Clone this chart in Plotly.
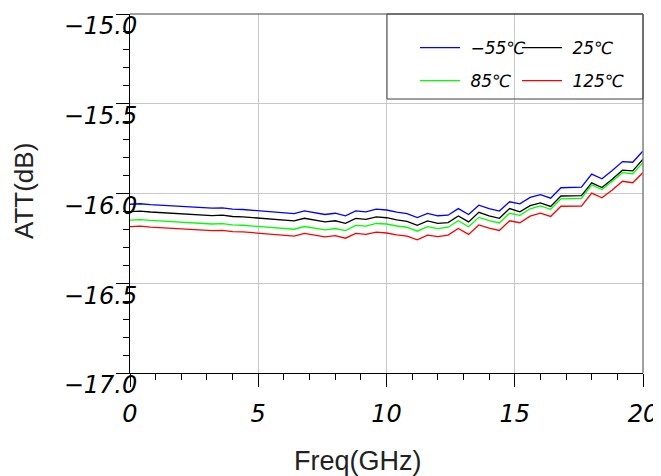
import plotly.graph_objects as go

freq = [round(i * 0.4, 1) for i in range(51)]

att_m55 = [-16.060, -16.057, -16.062, -16.065, -16.069, -16.071, -16.073, -16.078, -16.082, -16.080,
           -16.087, -16.089, -16.093, -16.098, -16.104, -16.106, -16.112, -16.097, -16.106, -16.117,
           -16.110, -16.124, -16.097, -16.102, -16.087, -16.092, -16.104, -16.112, -16.134, -16.111,
           -16.124, -16.121, -16.084, -16.117, -16.065, -16.084, -16.098, -16.046, -16.058, -16.022,
           -16.006, -16.026, -15.968, -15.968, -15.965, -15.892, -15.918, -15.872, -15.822, -15.826,
           -15.763]
att_25 = [-16.101, -16.098, -16.103, -16.106, -16.110, -16.112, -16.114, -16.119, -16.123, -16.121,
          -16.128, -16.130, -16.134, -16.139, -16.145, -16.147, -16.153, -16.138, -16.147, -16.158,
          -16.152, -16.166, -16.139, -16.144, -16.130, -16.135, -16.147, -16.155, -16.177, -16.153,
          -16.166, -16.162, -16.125, -16.158, -16.105, -16.124, -16.138, -16.084, -16.102, -16.068,
          -16.052, -16.072, -16.014, -16.015, -16.012, -15.941, -15.967, -15.920, -15.870, -15.874,
          -15.809]
att_85 = [-16.148, -16.145, -16.150, -16.153, -16.157, -16.159, -16.161, -16.166, -16.170, -16.168,
          -16.175, -16.177, -16.181, -16.186, -16.192, -16.193, -16.199, -16.184, -16.193, -16.203,
          -16.195, -16.207, -16.178, -16.182, -16.167, -16.170, -16.181, -16.188, -16.210, -16.185,
          -16.196, -16.188, -16.152, -16.185, -16.133, -16.151, -16.164, -16.110, -16.122, -16.085,
          -16.069, -16.088, -16.030, -16.030, -16.027, -15.952, -15.978, -15.932, -15.884, -15.890,
          -15.828]
att_125 = [-16.185, -16.182, -16.187, -16.190, -16.194, -16.196, -16.198, -16.203, -16.207, -16.205,
           -16.212, -16.214, -16.218, -16.223, -16.229, -16.231, -16.237, -16.222, -16.231, -16.242,
           -16.235, -16.249, -16.222, -16.228, -16.215, -16.220, -16.230, -16.237, -16.258, -16.232,
           -16.240, -16.232, -16.195, -16.228, -16.175, -16.193, -16.206, -16.152, -16.163, -16.126,
           -16.110, -16.128, -16.071, -16.072, -16.070, -15.998, -16.024, -15.980, -15.932, -15.940,
           -15.883]

x_ticks = [0, 5, 10, 15, 20]
x_tick_labels = ["0", "5", "10", "15", "20"]
y_ticks = [-17.0, -16.5, -16.0, -15.5, -15.0]
y_tick_labels = ["−17.0", "−16.5", "−16.0", "−15.5", "−15.0"]

series = [
    ("\u00a0−55℃", att_m55, "#0000ff", "legend"),
    ("\u00a025℃", att_25, "#000000", "legend2"),
    ("\u00a085℃", att_85, "#00ff00", "legend"),
    ("\u00a0125℃", att_125, "#ff0000", "legend2"),
]

hand = dict(family="DejaVu Sans", size=24, color="#000000", style="italic")

fig = go.Figure()
for name, vals, color, leg in series:
    fig.add_trace(go.Scatter(x=freq, y=vals, mode="lines", name=name,
                             line=dict(color=color, width=1.3), legend=leg,
                             legendgroup=name))

# page body has an 8px margin; figure is 8px smaller so the screen matches 661x476
W, H = 653, 468
L, R, T, B = 122, 18, 6, 103
pw, ph = W - L - R, H - T - B
OFF = 8

def px2x(px):
    return (px - OFF - L) / pw

def py2y(py):
    return 1 - (py - OFF - T) / ph

leg_common = dict(bgcolor="rgba(0,0,0,0)", borderwidth=0, orientation="v",
                  font=dict(family="DejaVu Sans", size=17, color="#000000", style="italic"),
                  xanchor="left", yanchor="top", tracegroupgap=8, itemwidth=40)

fig.update_layout(
    width=W, height=H,
    margin=dict(l=L, r=R, t=T, b=B, autoexpand=False),
    paper_bgcolor="white", plot_bgcolor="white",
    showlegend=True,
    legend=dict(x=px2x(415), y=py2y(30), **leg_common),
    legend2=dict(x=px2x(517), y=py2y(30), **leg_common),
    xaxis=dict(range=[0, 20], tickvals=x_ticks, ticktext=x_tick_labels, automargin=False,
               showline=True, linecolor="#000000", linewidth=1,
               ticks="outside", ticklen=13, tickcolor="#000000", tickwidth=1,
               showgrid=True, gridcolor="#c8c8c8", gridwidth=1,
               zeroline=False, tickfont=hand, ticklabelstandoff=6,
               minor=dict(dtick=1, ticks="outside", ticklen=6, tickcolor="#000000", showgrid=False)),
    yaxis=dict(range=[-17, -15], tickvals=y_ticks, ticktext=y_tick_labels, automargin=False,
               showline=True, linecolor="#000000", linewidth=1,
               ticks="outside", ticklen=13, tickcolor="#000000", tickwidth=1,
               showgrid=True, gridcolor="#c8c8c8", gridwidth=1,
               zeroline=False, tickfont=hand, ticklabelstandoff=-26, ticklabelshift=12,
               minor=dict(dtick=0.1, ticks="outside", ticklen=6, tickcolor="#000000", showgrid=False)),
    shapes=[
        dict(type="line", xref="paper", yref="paper", x0=0, x1=1, y0=1, y1=1,
             line=dict(color="#808080", width=1.5)),
        dict(type="line", xref="paper", yref="paper", x0=1, x1=1, y0=0, y1=1,
             line=dict(color="#808080", width=1.5)),
        dict(type="rect", xref="paper", yref="paper", x0=px2x(387), x1=1, y0=py2y(99), y1=1,
             line=dict(color="#404040", width=1), fillcolor="rgba(0,0,0,0)"),
    ],
    annotations=[
        dict(text="ATT(dB)", xref="paper", yref="paper", x=px2x(24), y=py2y(191),
             xanchor="center", yanchor="middle", textangle=-90, showarrow=False,
             font=dict(family="Liberation Sans", size=26, color="#222222")),
        dict(text="Freq(GHz)", xref="paper", yref="paper", x=px2x(358), y=py2y(461),
             xanchor="center", yanchor="middle", showarrow=False,
             font=dict(family="Liberation Sans", size=27, color="#222222")),
    ],
)

fig.write_html("out.html")
